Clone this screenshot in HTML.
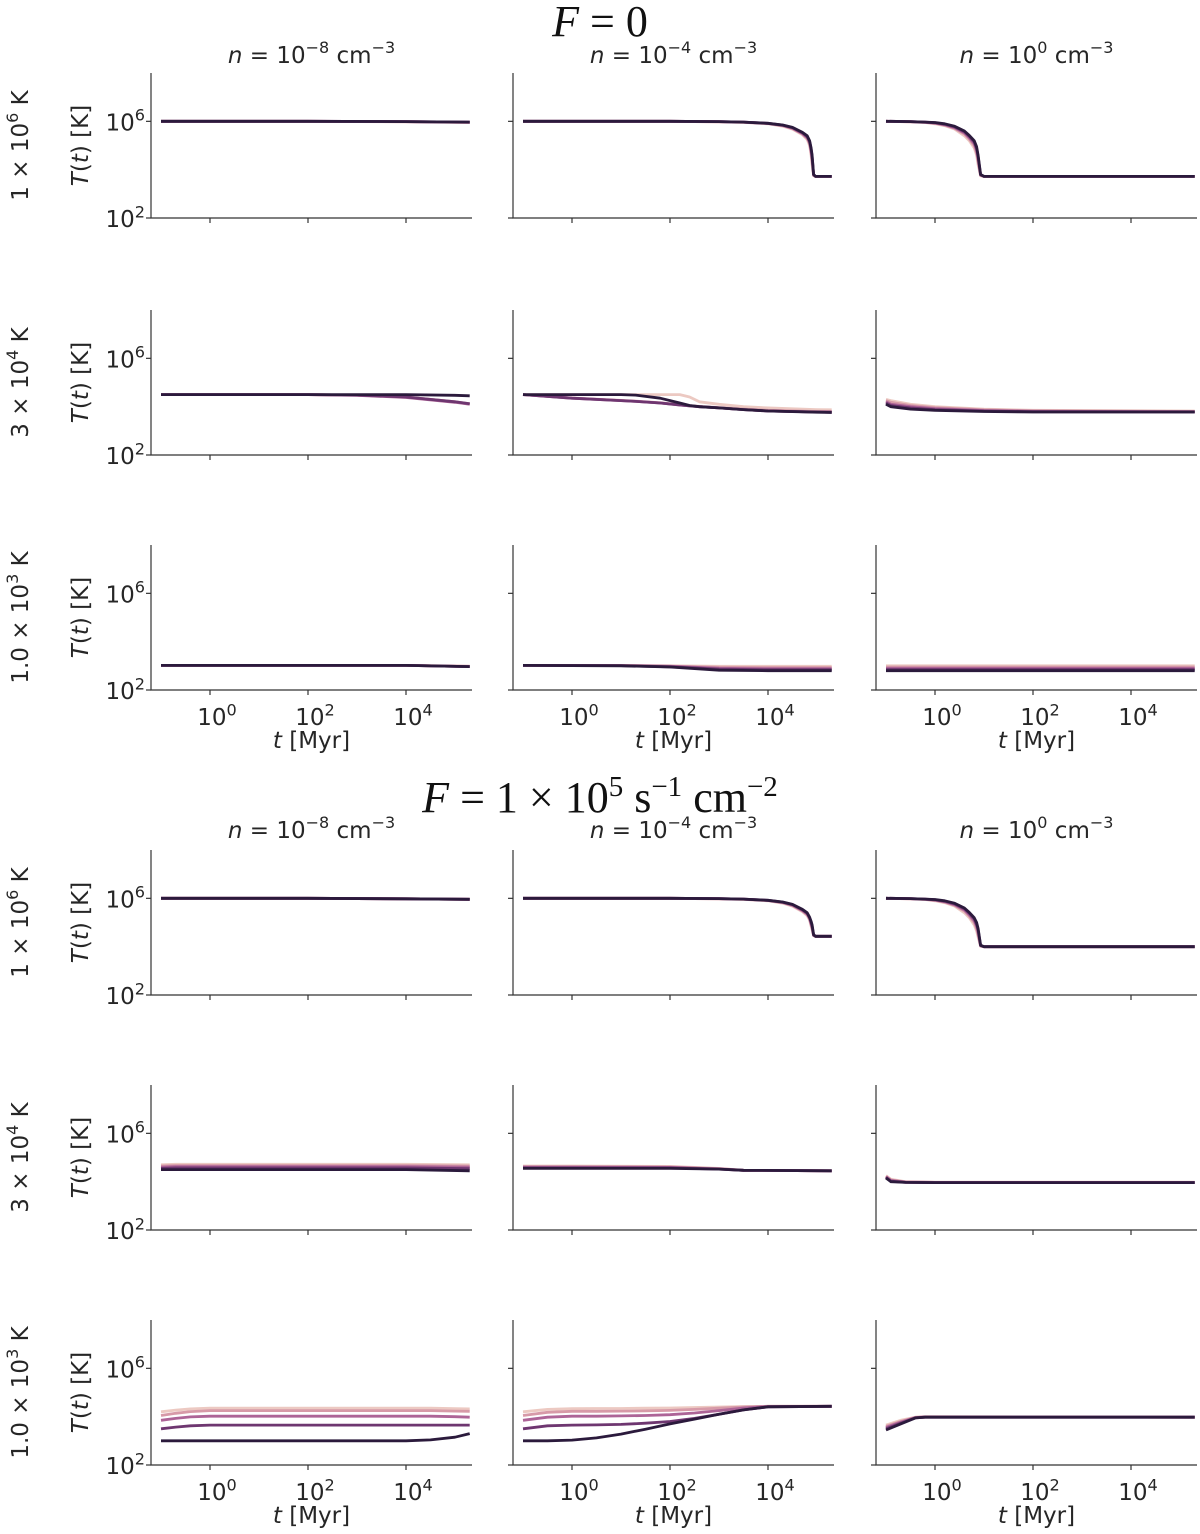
<!DOCTYPE html>
<html><head><meta charset="utf-8"><style>
body{margin:0;background:#fff}
svg{display:block}
text{font-family:"DejaVu Sans","Liberation Sans",sans-serif;fill:#262626}
.ser{font-family:"Liberation Serif",serif;fill:#111}
</style></head><body>
<svg id="chart" width="1200" height="1534" viewBox="0 0 1200 1534" xmlns="http://www.w3.org/2000/svg">
<text class="ser" x="600" y="36" text-anchor="middle" font-size="44"><tspan font-style="italic">F</tspan> = 0</text>
<text class="ser" x="600" y="812" text-anchor="middle" font-size="44"><tspan font-style="italic">F</tspan> = 1 × 10<tspan dy="-16" font-size="29">5</tspan><tspan dy="16"> s</tspan><tspan dy="-16" font-size="29">−1</tspan><tspan dy="16"> cm</tspan><tspan dy="-16" font-size="29">−2</tspan></text>
</svg>
<script>
const colors=['#ecc9c2','#d79aa8','#ad6497','#6e3670','#2b1a3c'];
const densityLabels=['−8','−4','0'];
const rowTempLabels=[['1','6'],['3','4'],['1.0','3'],['1','6'],['3','4'],['1.0','3']];
const yTicks=[2,6];
const xTicks=[0,2,4];
// panel data: log10 t [Myr] and log10 T [K] for 5 series (light -> dark)
const t00=[-1,2,4,5.3];
const s00=[[6,6,5.98,5.95],[6,6,5.985,5.96],[6,6,5.99,5.96],[6,6,5.99,5.97],[6,6,5.99,5.97]];
const t01=[-1,2,3,3.5,4,4.3,4.5,4.7,4.8,4.85,4.88,4.9,4.93,4.97,5.3];
const s01=[[6,6,5.98,5.96,5.9,5.8,5.68,5.45,5.25,5.0,4.6,4.2,3.75,3.72,3.72],[6,6,5.98,5.96,5.91,5.82,5.7,5.48,5.3,5.08,4.7,4.35,3.76,3.72,3.72],[6,6,5.99,5.97,5.91,5.83,5.72,5.5,5.33,5.12,4.78,4.45,3.78,3.72,3.72],[6,6,5.99,5.97,5.92,5.84,5.74,5.53,5.37,5.17,4.85,4.55,3.8,3.72,3.72],[6,6,5.99,5.97,5.92,5.85,5.75,5.55,5.4,5.2,4.9,4.6,3.8,3.72,3.72]];
const t02=[-1,-0.5,-0.2,0,0.2,0.4,0.6,0.7,0.8,0.85,0.88,0.93,1,5.3];
const s02=[[6,5.98,5.95,5.9,5.82,5.68,5.4,5.2,4.9,4.6,4.2,3.75,3.72,3.72],[6,5.98,5.96,5.92,5.84,5.71,5.48,5.27,5.0,4.7,4.35,3.76,3.72,3.72],[6,5.99,5.96,5.93,5.86,5.74,5.52,5.32,5.08,4.8,4.45,3.78,3.72,3.72],[6,5.99,5.97,5.94,5.88,5.77,5.57,5.38,5.15,4.88,4.55,3.79,3.72,3.72],[6,5.99,5.97,5.95,5.9,5.8,5.6,5.42,5.2,4.95,4.6,3.8,3.72,3.72]];
const t10=[-1,2,3,4,5,5.3];
const s10=[[4.5,4.5,4.48,4.4,4.2,4.1],[4.5,4.5,4.48,4.4,4.2,4.12],[4.5,4.5,4.47,4.38,4.18,4.1],[4.5,4.5,4.48,4.4,4.2,4.12],[4.5,4.5,4.5,4.5,4.47,4.45]];
const t11=[-1,0,1,1.3,1.8,2.2,2.4,2.6,3,3.5,4,5,5.3];
const s11=[[4.5,4.5,4.5,4.5,4.5,4.5,4.4,4.2,4.1,4.0,3.95,3.88,3.87],[4.5,4.36,4.26,4.23,4.16,4.08,4.04,4.01,3.96,3.9,3.85,3.8,3.8],[4.5,4.35,4.25,4.22,4.15,4.07,4.03,4.0,3.95,3.88,3.82,3.78,3.77],[4.5,4.35,4.25,4.22,4.15,4.07,4.03,4.0,3.95,3.88,3.82,3.78,3.77],[4.5,4.5,4.5,4.48,4.35,4.15,4.05,4.0,3.95,3.88,3.82,3.77,3.76]];
const t12=[-1,-0.9,-0.5,0,1,2,5.3];
const s12=[[4.3,4.25,4.1,4.0,3.9,3.85,3.82],[4.25,4.18,4.05,3.96,3.87,3.83,3.8],[4.2,4.1,4.0,3.92,3.84,3.81,3.79],[4.15,4.05,3.95,3.88,3.82,3.79,3.78],[4.1,4.0,3.9,3.85,3.8,3.78,3.78]];
const t20=[-1,4,5.3];
const s20=[[3.02,3.02,2.98],[3.02,3.02,2.98],[3.02,3.02,2.97],[3.02,3.02,2.97],[3.02,3.02,2.97]];
const t21=[-1,1,2,3,4,5.3];
const s21=[[3.02,3.02,3.0,2.98,2.98,2.98],[3.02,3.02,2.99,2.94,2.93,2.93],[3.02,3.01,2.98,2.9,2.88,2.88],[3.02,3.01,2.96,2.86,2.84,2.84],[3.02,3.0,2.95,2.82,2.8,2.8]];
const t22=[-1,5.3];
const s22=[[3.0,3.0],[2.95,2.95],[2.9,2.9],[2.85,2.85],[2.8,2.8]];
const t30=[-1,2,4,5.3];
const s30=[[6,6,5.98,5.96],[6,6,5.98,5.96],[6,6,5.98,5.96],[6,6,5.98,5.96],[6,6,5.98,5.96]];
const t31=[-1,2,3,3.5,4,4.3,4.5,4.7,4.8,4.85,4.88,4.9,4.93,4.97,5.3];
const s31=[[6,6,5.98,5.96,5.9,5.8,5.68,5.45,5.28,5.1,4.85,4.7,4.45,4.43,4.43],[6,6,5.98,5.96,5.91,5.82,5.7,5.48,5.32,5.14,4.9,4.75,4.46,4.43,4.43],[6,6,5.99,5.97,5.91,5.83,5.72,5.5,5.35,5.17,4.95,4.8,4.47,4.43,4.43],[6,6,5.99,5.97,5.92,5.84,5.74,5.53,5.38,5.2,5.0,4.85,4.48,4.43,4.43],[6,6,5.99,5.97,5.92,5.85,5.75,5.55,5.4,5.22,5.05,4.9,4.5,4.43,4.43]];
const t32=[-1,-0.5,-0.2,0,0.2,0.4,0.6,0.7,0.8,0.85,0.88,0.93,1,5.3];
const s32=[[6,5.98,5.95,5.9,5.82,5.68,5.4,5.2,4.9,4.65,4.4,4.02,4.0,4.0],[6,5.98,5.96,5.92,5.84,5.71,5.48,5.27,5.0,4.75,4.5,4.03,4.0,4.0],[6,5.99,5.96,5.93,5.86,5.74,5.52,5.32,5.08,4.85,4.6,4.04,4.0,4.0],[6,5.99,5.97,5.94,5.88,5.77,5.57,5.38,5.15,4.92,4.7,4.05,4.0,4.0],[6,5.99,5.97,5.95,5.9,5.8,5.6,5.42,5.2,5.0,4.75,4.06,4.0,4.0]];
const t40=[-1,-0.7,0,2,4,5.3];
const s40=[[4.7,4.72,4.72,4.72,4.72,4.7],[4.65,4.67,4.67,4.67,4.67,4.65],[4.6,4.62,4.62,4.62,4.62,4.6],[4.55,4.57,4.57,4.57,4.57,4.54],[4.5,4.5,4.5,4.5,4.5,4.45]];
const t41=[-1,0,2,3,3.5,5.3];
const s41=[[4.65,4.65,4.63,4.55,4.47,4.45],[4.62,4.62,4.61,4.54,4.47,4.45],[4.6,4.6,4.59,4.53,4.47,4.45],[4.57,4.57,4.57,4.52,4.47,4.45],[4.55,4.55,4.55,4.52,4.47,4.45]];
const t42=[-1,-0.9,-0.6,0,5.3];
const s42=[[4.25,4.1,4.0,3.98,3.98],[4.22,4.07,3.99,3.97,3.97],[4.2,4.05,3.98,3.97,3.97],[4.18,4.02,3.97,3.96,3.96],[4.15,4.0,3.97,3.96,3.96]];
const t50=[-1,-0.7,-0.4,0,2,4,4.5,5,5.3];
const s50=[[4.2,4.27,4.32,4.35,4.35,4.35,4.35,4.33,4.32],[4.05,4.14,4.21,4.25,4.25,4.25,4.25,4.23,4.22],[3.85,3.93,3.99,4.02,4.02,4.02,4.02,4.0,3.98],[3.5,3.57,3.62,3.65,3.65,3.65,3.65,3.65,3.65],[3.0,3.0,3.0,3.0,3.0,3.0,3.04,3.15,3.3]];
const t51=[-1,-0.5,0,0.5,1,1.5,2,2.5,3,3.5,4,5.3];
const s51=[[4.2,4.3,4.33,4.34,4.34,4.35,4.36,4.38,4.4,4.42,4.43,4.43],[4.05,4.18,4.22,4.22,4.23,4.24,4.26,4.3,4.35,4.4,4.43,4.43],[3.85,3.98,4.02,4.02,4.03,4.05,4.08,4.15,4.25,4.36,4.42,4.43],[3.5,3.62,3.65,3.66,3.68,3.73,3.8,3.93,4.1,4.28,4.41,4.43],[3.0,3.0,3.03,3.12,3.28,3.48,3.7,3.9,4.1,4.28,4.41,4.43]];
const t52=[-1,-0.7,-0.4,-0.2,5.3];
const s52=[[3.65,3.85,3.98,4.0,3.98],[3.6,3.8,3.97,3.99,3.98],[3.55,3.77,3.96,3.99,3.98],[3.5,3.73,3.95,3.98,3.98],[3.45,3.7,3.95,3.98,3.98]];
const panelTimes=[[t00,t01,t02],[t10,t11,t12],[t20,t21,t22],[t30,t31,t32],[t40,t41,t42],[t50,t51,t52]];
const panelSeries=[[s00,s01,s02],[s10,s11,s12],[s20,s21,s22],[s30,s31,s32],[s40,s41,s42],[s50,s51,s52]];

const NS='http://www.w3.org/2000/svg';
const svg=document.getElementById('chart');
const colLeft=[151,513,876], W=321, rowTop=[73,310,545,850,1085,1320], H=145;
const xMin=-1.204, xMax=5.347, yMin=2, yMax=8;
const FS=23;
function mk(tag,attrs,parent){const e=document.createElementNS(NS,tag);for(const k in attrs)e.setAttribute(k,attrs[k]);(parent||svg).appendChild(e);return e;}
function supText(parent,x,y,base,sup,anchor,size){
  const t=mk('text',{x:x,y:y,'text-anchor':anchor,'font-size':size},parent);
  t.appendChild(document.createTextNode(base));
  const s=mk('tspan',{dy:-size*0.42,'font-size':size*0.7},t);s.textContent=sup;return t;}

for(let c=0;c<3;c++){
  for(const ty of [63,838]){
    const cx=colLeft[c]+W/2;
    const t=mk('text',{x:cx,y:ty,'text-anchor':'middle','font-size':FS});
    
    
    const a=mk('tspan',{'font-style':'italic'},t);a.textContent='n';
    const b=mk('tspan',{},t);b.textContent=' = 10';
    const s1=mk('tspan',{dy:-10,'font-size':16},t);s1.textContent=densityLabels[c];
    const d=mk('tspan',{dy:10},t);d.textContent=' cm';
    const s2=mk('tspan',{dy:-10,'font-size':16},t);s2.textContent='−3';
  }
}

for(let r=0;r<6;r++){
  const top=rowTop[r], bot=top+H, cy=top+H/2;
  const rl=mk('g',{transform:`translate(28,${cy}) rotate(-90)`});
  
  
  const rt=mk('text',{x:0,y:0,'text-anchor':'middle','font-size':FS},rl);
  rt.appendChild(document.createTextNode(rowTempLabels[r][0]+' × 10'));
  const rs=mk('tspan',{dy:-10,'font-size':16},rt);rs.textContent=rowTempLabels[r][1];
  const rk=mk('tspan',{dy:10},rt);rk.textContent=' K';
  for(let c=0;c<3;c++){
    const L=colLeft[c];
    const g=mk('g',{});
    
    
    const xs=v=>L+(v-xMin)/(xMax-xMin)*W;
    const ys=v=>bot-(v-yMin)/(yMax-yMin)*H;
    const sp=mk('path',{d:`M${L} ${top} V${bot} H${L+W}`,stroke:'#333',fill:'none','stroke-width':1.2},g);
    
    
    for(const yt of yTicks){
      mk('line',{x1:L-5,x2:L,y1:ys(yt),y2:ys(yt),stroke:'#333','stroke-width':1.2},g);
      if(c===0){
        const tl=supText(g,L-6,ys(yt)+9,'10',String(yt),'end',FS);
        
        
      }
    }
    for(const xt of xTicks){
      mk('line',{x1:xs(xt),x2:xs(xt),y1:bot,y2:bot+5,stroke:'#333','stroke-width':1.2},g);
      if(r===2||r===5){
        const xl=supText(g,xs(xt)+7,bot+35,'10',String(xt),'middle',FS);
        
        
      }
    }
    if(c===0){
      const yl=mk('text',{transform:`translate(88,${cy}) rotate(-90)`,'text-anchor':'middle','font-size':FS},g);
      
      
      const i1=mk('tspan',{'font-style':'italic'},yl);i1.textContent='T';
      const i2=mk('tspan',{},yl);i2.textContent='(';
      const i3=mk('tspan',{'font-style':'italic'},yl);i3.textContent='t';
      const i4=mk('tspan',{},yl);i4.textContent=') [K]';
    }
    if(r===2||r===5){
      const xl=mk('text',{x:L+W/2,y:bot+58,'text-anchor':'middle','font-size':FS},g);
      
      
      const i1=mk('tspan',{'font-style':'italic'},xl);i1.textContent='t';
      const i2=mk('tspan',{},xl);i2.textContent=' [Myr]';
    }
    const times=panelTimes[r][c], series=panelSeries[r][c];
    series.forEach((vals,k)=>{
      const d=vals.map((v,i)=>(i?'L':'M')+xs(times[i]).toFixed(1)+' '+ys(v).toFixed(1)).join(' ');
      const p=mk('path',{d:d,stroke:colors[k],fill:'none','stroke-width':2.8,'stroke-linejoin':'round'},g);
      
      
    });
  }
}
</script>
</body></html>
